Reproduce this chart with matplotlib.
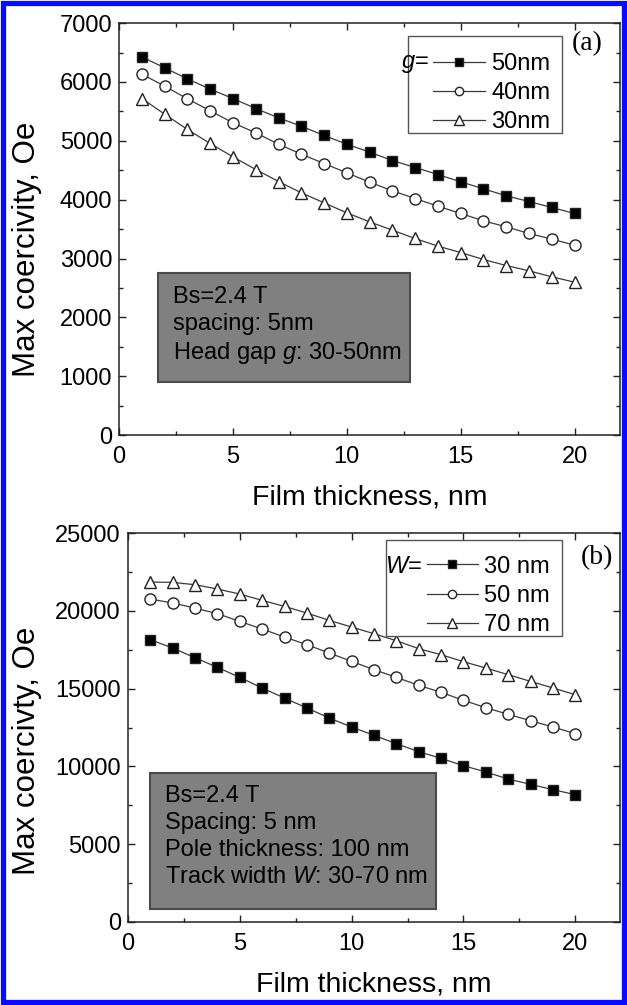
import numpy as np
import matplotlib
matplotlib.use("Agg")
import matplotlib.pyplot as plt
from matplotlib.patches import Rectangle
from matplotlib.ticker import MultipleLocator

plt.rcParams['font.family'] = ['Liberation Sans', 'DejaVu Sans']
plt.rcParams['mathtext.fontset'] = 'custom'
plt.rcParams['mathtext.it'] = 'Liberation Sans:italic'
plt.rcParams['mathtext.rm'] = 'Liberation Sans'

thickness = np.arange(1, 21)

# panel (a): head gap g
g_labels = ['50nm', '40nm', '30nm']
g50 = [6427, 6240, 6053, 5878, 5719, 5549, 5391, 5249, 5091, 4943,
       4807, 4666, 4547, 4428, 4304, 4185, 4066, 3969, 3868, 3766]
g40 = [6133, 5929, 5714, 5510, 5306, 5136, 4943, 4774, 4615, 4456,
       4298, 4151, 4020, 3890, 3766, 3641, 3539, 3426, 3330, 3228]
g30 = [5719, 5453, 5193, 4955, 4728, 4513, 4309, 4117, 3947, 3777,
       3624, 3482, 3341, 3211, 3103, 2984, 2882, 2792, 2690, 2599]

# panel (b): track width W
w_labels = ['30 nm', '50 nm', '70 nm']
w30 = [18145, 17609, 16988, 16367, 15724, 15039, 14396, 13753, 13111, 12532,
       11997, 11461, 10947, 10518, 10047, 9640, 9190, 8847, 8505, 8183]
w50 = [20758, 20501, 20180, 19816, 19323, 18830, 18316, 17824, 17288, 16752,
       16217, 15724, 15210, 14760, 14246, 13775, 13346, 12939, 12532, 12104]
w70 = [21851, 21829, 21680, 21401, 21080, 20673, 20287, 19859, 19387, 18959,
       18530, 18080, 17566, 17181, 16731, 16324, 15895, 15467, 15039, 14610]

markers = [dict(marker='s', mfc='black', ms=7.5),
           dict(marker='o', mfc='white', ms=8),
           dict(marker='^', mfc='white', ms=9)]


def style_axes(ax, ymax, ymajor):
    ax.set_xlim(0, 22)
    ax.set_ylim(0, ymax)
    ax.xaxis.set_major_locator(MultipleLocator(5))
    ax.xaxis.set_minor_locator(MultipleLocator(2.5))
    ax.yaxis.set_major_locator(MultipleLocator(ymajor))
    ax.yaxis.set_minor_locator(MultipleLocator(ymajor / 2))
    ax.tick_params(which='both', direction='in', top=True, right=True,
                   width=1.0, color='#222222')
    ax.tick_params(which='major', length=5, labelsize=17, pad=5)
    ax.tick_params(which='minor', length=3)
    ax.tick_params(axis='x', pad=8)
    for s in ax.spines.values():
        s.set_linewidth(1.1)
        s.set_color('#222222')


def draw_panel(ax, series, labels, tag, info, leg_box, info_box, tag_pos, leg_drop):
    for ys, lab, mk in zip(series, labels, markers):
        ax.plot(thickness, ys, color='#3a3a3a', lw=0.9, mec='#222222',
                mew=1.0, label=lab, **mk)
    x0, y0, x1, y1 = leg_box
    ax.add_patch(Rectangle((x0, y0), x1 - x0, y1 - y0, transform=ax.transAxes,
                           fc='white', ec='#555555', lw=1.0, zorder=4))
    leg = ax.legend(loc='upper right', bbox_to_anchor=(x1 - 0.005, y1 - leg_drop),
                    frameon=False, fontsize=17, handlelength=2.2, handletextpad=0.25,
                    labelspacing=0.3, borderpad=0.4, borderaxespad=0.0,
                    markerscale=0.75)
    leg.set_zorder(5)
    ax.text(tag_pos[0], tag_pos[1], tag, transform=ax.transAxes,
            fontsize=20, family='Liberation Serif', va='center', ha='center')
    bx0, by0, bx1, by1 = info_box
    ax.add_patch(Rectangle((bx0, by0), bx1 - bx0, by1 - by0, transform=ax.transAxes,
                           fc='#808080', ec='#4a4a4a', lw=1.5, zorder=3))
    ax.text(bx0 + 0.03, by1 - 0.03, info, transform=ax.transAxes, fontsize=17,
            va='top', ha='left', linespacing=1.3, zorder=4)
    return leg


def add_prefix(fig, ax, leg, prefix):
    # put the "g=" / "W=" text just left of the first legend handle
    renderer = fig.canvas.get_renderer()
    bb = leg.get_texts()[0].get_window_extent(renderer)
    hb = leg.legend_handles[0].get_window_extent(renderer)
    xa, ya = ax.transAxes.inverted().transform((hb.x0 - 1, (bb.y0 + bb.y1) / 2))
    ax.text(xa, ya, prefix, transform=ax.transAxes, fontsize=17,
            va='center', ha='right', zorder=6)


fig = plt.figure(figsize=(6.27, 10.05), dpi=100)

ax1 = fig.add_axes([0.190, 0.567, 0.799, 0.410])
style_axes(ax1, 7000, 1000)
leg1 = draw_panel(ax1, [g50, g40, g30], g_labels, '(a)',
                  'Bs=2.4 T\nspacing: 5nm\nHead gap $g$: 30-50nm',
                  (0.577, 0.733, 0.884, 0.968), (0.078, 0.129, 0.581, 0.393),
                  (0.934, 0.95), 0.018)
ax1.set_xlabel('Film thickness, nm', fontsize=20.5, labelpad=12)
ax1.set_ylabel('Max coercivity, Oe', fontsize=22.5)
ax1.yaxis.set_label_coords(-0.154, 0.45)

ax2 = fig.add_axes([0.204, 0.0826, 0.785, 0.387])
style_axes(ax2, 25000, 5000)
leg2 = draw_panel(ax2, [w30, w50, w70], w_labels, '(b)',
                  'Bs=2.4 T\nSpacing: 5 nm\nPole thickness: 100 nm\nTrack width $W$: 30-70 nm',
                  (0.524, 0.735, 0.882, 0.982), (0.045, 0.033, 0.626, 0.383),
                  (0.953, 0.936), 0.016)
ax2.set_xlabel('Film thickness, nm', fontsize=20.5, labelpad=12)
ax2.set_ylabel('Max coercivty, Oe', fontsize=22.5)
ax2.yaxis.set_label_coords(-0.175, 0.44)

fig.canvas.draw()
add_prefix(fig, ax1, leg1, '$g$=')
add_prefix(fig, ax2, leg2, '$W$=')

# blue frame around the figure
fig.patches.append(Rectangle((0.004, 0.0025), 0.992, 0.995, transform=fig.transFigure,
                             fill=False, ec='#0a0aff', lw=3.8))

fig.savefig('out.png', dpi=100)
